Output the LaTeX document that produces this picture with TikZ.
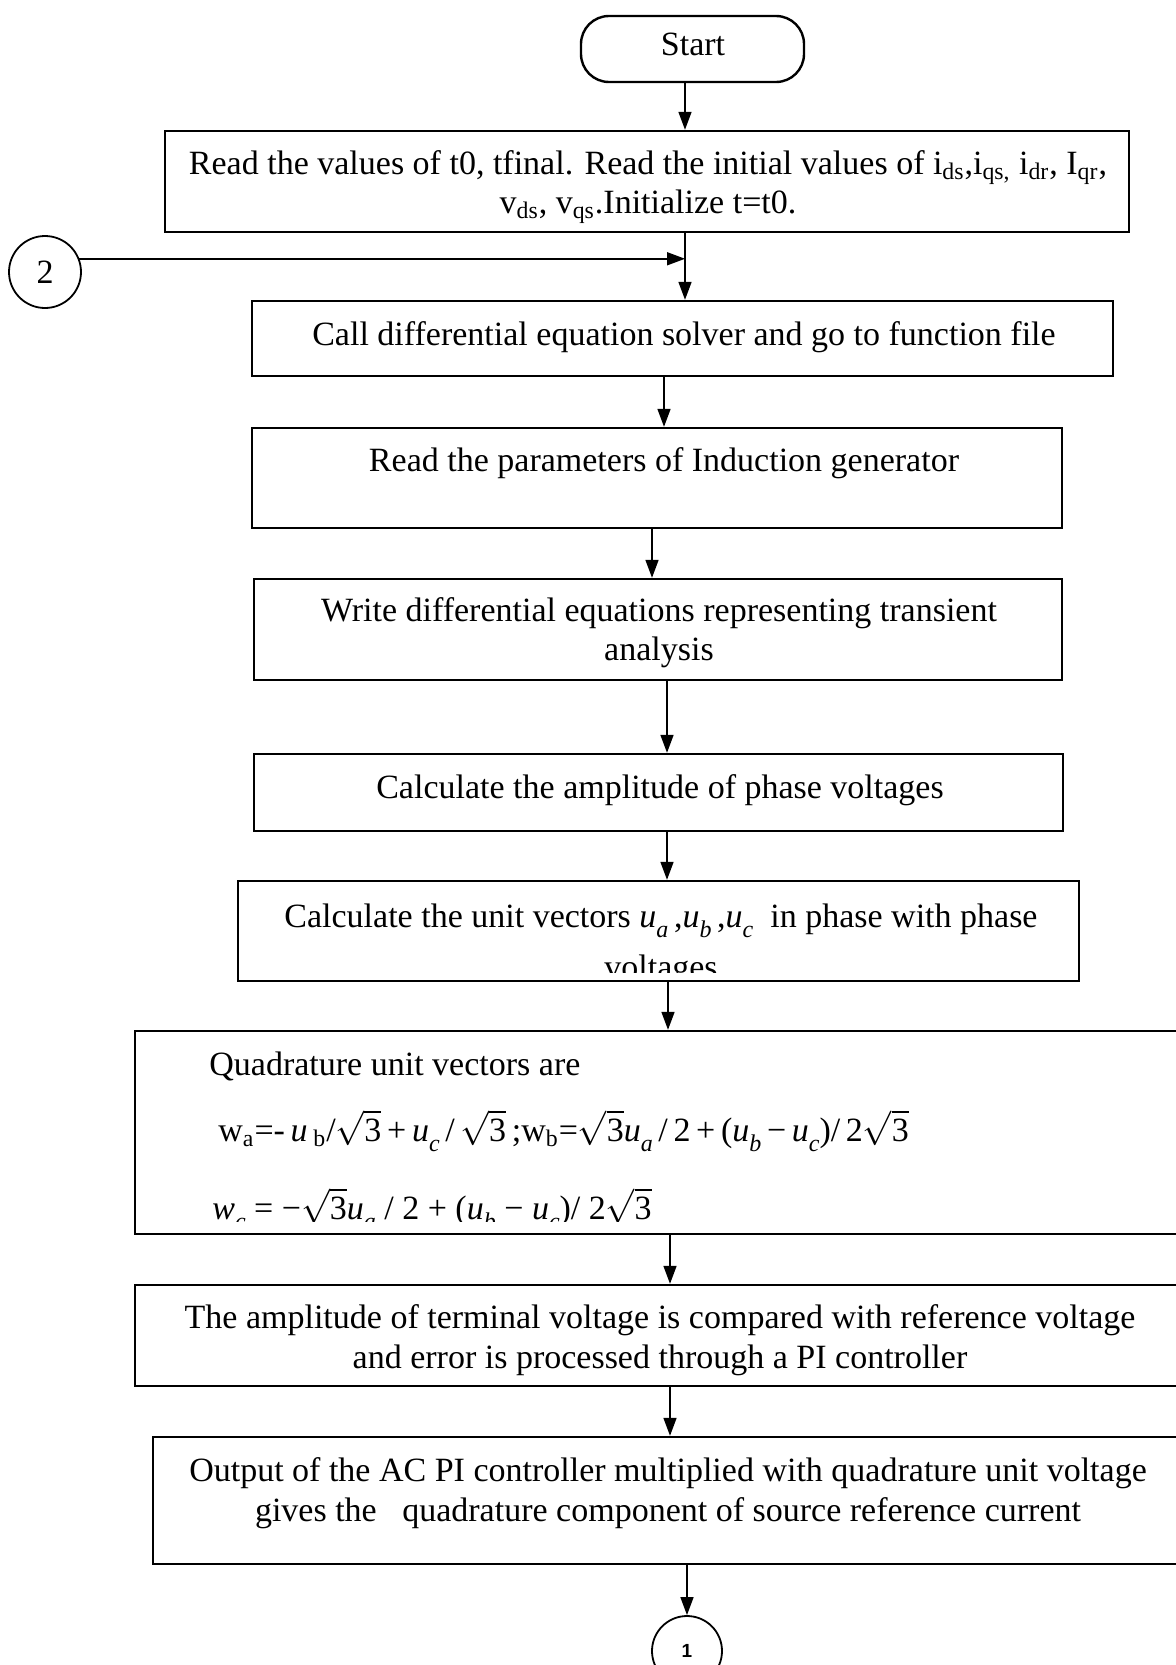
\documentclass[tikz,border=0pt]{standalone}
\usepackage{fontspec}
\setmainfont{Liberation Serif}
\newfontfamily\sansf{Liberation Sans}
\usetikzlibrary{arrows.meta,fit}
\newcommand{\usub}[2]{\textit{#1}\raisebox{-0.32em}{\fontsize{12}{12}\selectfont\textit{#2}}}
\newcommand{\rthree}{$\sqrt{\textrm{3}}$}
\begin{document}
\begin{tikzpicture}[x=0.5pt,y=-0.5pt,
  box/.style={draw, line width=1.2pt, rectangle, inner sep=0pt},
  txt/.style={font=\fontsize{17}{19.5}\selectfont, align=center, inner sep=0pt},
  arr/.style={line width=0.8pt, -{Triangle[length=9pt,width=6.5pt]}},
  conn/.style={draw, circle, line width=0.9pt, inner sep=0pt}]
\useasboundingbox (0,0) rectangle (1176,1665);
\clip (0,0) rectangle (1176,1665);

% boxes
\node[box, rounded corners=14pt, fit={(581,16) (804,82)}] (start) {};
\node[box, fit={(165,131) (1129,232)}] (b1) {};
\node[box, fit={(252,301) (1113,376)}] (b2) {};
\node[box, fit={(252,428) (1062,528)}] (b3) {};
\node[box, fit={(254,579) (1062,680)}] (b4) {};
\node[box, fit={(254,754) (1063,831)}] (b5) {};
\node[box, fit={(238,881) (1079,981)}] (b6) {};
\node[box, fit={(135,1031) (1210,1234)}] (b7) {};
\node[box, fit={(135,1285) (1210,1386)}] (b8) {};
\node[box, fit={(153,1437) (1210,1564)}] (b9) {};
\node[conn, minimum size=36pt, font=\fontsize{17}{19.5}\selectfont] (c2) at (45,272) {2};
\node[conn, minimum size=35pt, font=\sansf\bfseries\fontsize{9.5}{11}\selectfont] (c1) at (687,1651) {1};

% texts
\node[txt] (tstart) at (693,44) {Start};
\node[txt] (t1) at (648,187) {Read the values of t0, tfinal. Read the initial values of i\textsubscript{ds},i\textsubscript{qs,} i\textsubscript{dr}, I\textsubscript{qr},\\ v\textsubscript{ds}, v\textsubscript{qs}.Initialize t=t0.};
\node[txt] (t2) at (684,337) {Call differential equation solver and go to function file};
\node[txt] (t3) at (664,463) {Read the parameters of Induction generator};
\node[txt] (t4) at (659,633) {Write differential equations representing transient\\analysis};
\node[txt] (t5) at (660,790) {Calculate the amplitude of phase voltages};
\node[txt, anchor=base] (t6a) at (661,927) {Calculate the unit vectors \usub{u}{a}\,,\usub{u}{b}\,,\usub{u}{c} \ in phase with phase};
\begin{scope}
  \clip (238,881) rectangle (1079,972);
  \node[txt, anchor=base] (t6b) at (661,978) {voltages};
\end{scope}
\node[txt, anchor=base west] (t7a) at (209,1075) {Quadrature unit vectors are};
\node[txt, anchor=base west] (t7b) at (218,1141) {w\textsubscript{a}=-\,\textit{u}\,\textsubscript{b}/\rthree\,+\,\usub{u}{c}\,/\,\rthree\,;w\textsubscript{b}=\rthree\usub{u}{a}\,/\,2\,+\,(\usub{u}{b}\,−\,\usub{u}{c})/\,2\rthree};
\begin{scope}
  \clip (135,1031) rectangle (1176,1221);
  \node[txt, anchor=base west] (t7c) at (212,1219) {\usub{w}{c} = −\rthree\usub{u}{a} / 2 + (\usub{u}{b} − \usub{u}{c})/ 2\rthree};
\end{scope}
\node[txt, font=\fontsize{17}{20}\selectfont] (t8) at (660,1340) {The amplitude of terminal voltage is compared with reference voltage\\and error is processed through a PI controller};
\node[txt, font=\fontsize{17}{20}\selectfont] (t9) at (668,1493) {Output of the AC PI controller multiplied with quadrature unit voltage\\gives the\ \ \ quadrature component of source reference current};

% connectors
\coordinate (xa) at (685,0);
\coordinate (xb) at (664,0);
\coordinate (xc) at (652,0);
\coordinate (xd) at (667,0);
\coordinate (xe) at (668,0);
\coordinate (xf) at (670,0);
\coordinate (xg) at (687,0);
\draw[arr] (start.south -| xa) -- (b1.north -| xa);
\draw[arr] (b1.south -| xa) -- (b2.north -| xa);
\draw[arr] (c2.21) -- (c2.21 -| xa);
\draw[arr] (b2.south -| xb) -- (b3.north -| xb);
\draw[arr] (b3.south -| xc) -- (b4.north -| xc);
\draw[arr] (b4.south -| xd) -- (b5.north -| xd);
\draw[arr] (b5.south -| xd) -- (b6.north -| xd);
\draw[arr] (b6.south -| xe) -- (b7.north -| xe);
\draw[arr] (b7.south -| xf) -- (b8.north -| xf);
\draw[arr] (b8.south -| xf) -- (b9.north -| xf);
\draw[arr] (b9.south -| xg) -- (c1.north);
\end{tikzpicture}
\end{document}
